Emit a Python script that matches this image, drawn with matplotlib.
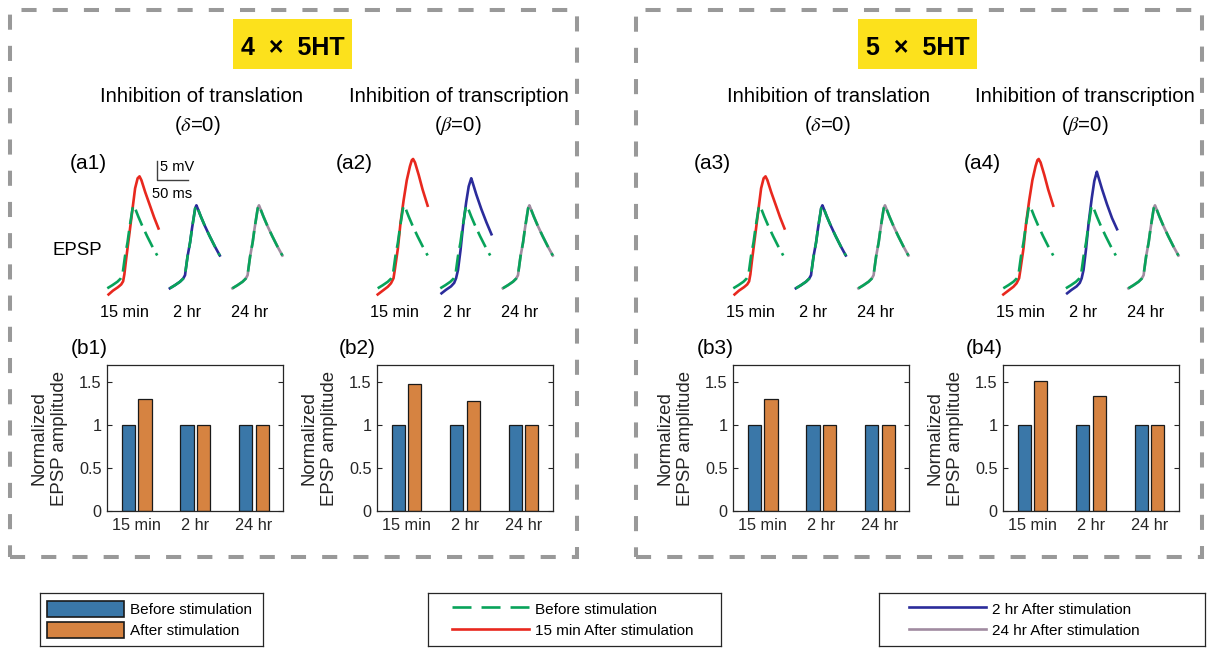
import matplotlib
matplotlib.use('Agg')
import matplotlib.pyplot as plt
import numpy as np
from matplotlib.patches import Rectangle, Patch
from matplotlib.lines import Line2D

plt.rcParams['font.family'] = ['Liberation Sans', 'DejaVu Sans']
plt.rcParams['mathtext.fontset'] = 'stix'

# ---- data ----
time_labels = ['15 min', '2 hr', '24 hr']
before_bars = [1, 1, 1]
after_b1 = [1.3, 1.0, 1.0]
after_b2 = [1.48, 1.28, 1.0]
after_b3 = [1.3, 1.0, 1.0]
after_b4 = [1.51, 1.34, 1.0]

# EPSP traces (ms, mV)
before_t = [0, 8, 16, 21, 24, 25, 28, 32, 35, 38, 40, 42, 44, 49, 55, 63, 71, 79]
before_v = [0, 0.8, 1.7, 2.5, 3.4, 4.7, 8.3, 11.9, 15.5, 18.6, 20.7, 21.5, 20.7, 18.6, 16.3, 13.5, 10.9, 8.5]

red_a1_t = [2, 9, 17, 22, 25, 27, 30, 35, 40, 44, 48, 51, 54, 60, 68, 74, 81]
red_a1_v = [-1.6, -0.6, 0.3, 1.0, 1.8, 3.6, 7.8, 14.2, 20.7, 25.9, 28.5, 29.0, 28.0, 24.9, 21.2, 18.4, 15.5]

red_a2_t = [0, 8, 16, 21, 25, 27, 32, 36, 41, 46, 51, 54, 56, 59, 65, 71, 79]
red_a2_v = [-1.6, -0.6, 0.4, 1.3, 2.6, 4.7, 10.4, 16.8, 22.8, 28.0, 31.6, 33.2, 33.5, 32.6, 29.3, 25.6, 21.4]

blue_a2_t = [2, 9, 17, 22, 25, 28, 32, 36, 41, 45, 49, 51, 57, 65, 73, 81]
blue_a2_v = [-1.3, -0.4, 0.5, 1.4, 2.6, 4.7, 9.8, 16.1, 22.3, 26.4, 28.5, 27.5, 24.3, 20.5, 17.1, 14.0]

# a3 / a4 15 min traces look the same as a1 / a2
red_a3_t, red_a3_v = red_a1_t, red_a1_v
red_a4_t, red_a4_v = red_a2_t, red_a2_v

blue_a4_t = [2, 9, 17, 22, 25, 28, 32, 36, 41, 45, 49, 51, 57, 65, 73, 81]
blue_a4_v = [-1.3, -0.4, 0.5, 1.4, 2.6, 4.8, 10.3, 16.9, 23.4, 27.8, 30.2, 29.1, 25.8, 21.8, 18.2, 15.3]

# colours
green = '#08A35A'
red = '#E8281E'
blue = '#2B2C9B'
grey = '#A08BA0'
bar_blue = '#3A77A8'
bar_orange = '#D68341'
dark = '#262626'

W, H = 1207, 648
fig = plt.figure(figsize=(W / 100, H / 100), dpi=100)


def box(x0, y0, x1, y1):
    return [x0 / W, 1 - y1 / H, (x1 - x0) / W, (y1 - y0) / H]


def fp(x, y):
    return x / W, 1 - y / H


# dashed frames
for x0, x1 in [(9.5, 577), (636, 1201.5)]:
    fig.patches.append(Rectangle(fp(x0, 557), (x1 - x0) / W, (557 - 10) / H,
                                 transform=fig.transFigure, fill=False, ec='#999999',
                                 lw=2.9, ls=(0, (3.75, 4.0))))

# yellow titles
for xc, txt in [(292.5, '4  \u00d7  5HT'), (917.5, '5  \u00d7  5HT')]:
    fig.patches.append(Rectangle(fp(xc - 59.5, 69), 119 / W, 50 / H,
                                 transform=fig.transFigure, fc='#FCE11C', ec='none'))
    fig.text(*fp(xc, 55), txt, ha='center', va='baseline', fontsize=18, fontweight='bold')

# sub titles
subs = [(201.5, 197, 'Inhibition of translation', r'($\delta$=0)'),
        (458.5, 457.5, 'Inhibition of transcription', r'($\beta$=0)'),
        (828.5, 827.5, 'Inhibition of translation', r'($\delta$=0)'),
        (1085, 1085, 'Inhibition of transcription', r'($\beta$=0)')]
for xc, xc2, l1, l2 in subs:
    fig.text(*fp(xc, 101.7), l1, ha='center', va='baseline', fontsize=14.6)
    fig.text(*fp(xc2, 131), l2, ha='center', va='baseline', fontsize=14.6)

# ---- EPSP traces ----
ms_px = 50 / 31.6
mv_px = 5 / 19.3
offsets = [0, 99, 198]
panels = [
    (107.3, 88, '(a1)', (red_a1_t, red_a1_v), (before_t, before_v)),
    (377.7, 354, '(a2)', (red_a2_t, red_a2_v), (blue_a2_t, blue_a2_v)),
    (733.3, 712, '(a3)', (red_a3_t, red_a3_v), (before_t, before_v)),
    (1003.3, 982, '(a4)', (red_a4_t, red_a4_v), (blue_a4_t, blue_a4_v)),
]
dash = (0, (6.5, 2.6))
for i, (ox, lx, lab, red_tr, blue_tr) in enumerate(panels):
    ax = fig.add_axes(box(ox - 15, 140, ox + 190, 300))
    ax.set_xlim(-15 * ms_px, 190 * ms_px)
    ax.set_ylim((288.3 - 300) * mv_px, (288.3 - 140) * mv_px)
    ax.axis('off')
    after = [red_tr, blue_tr, (before_t, before_v)]
    cols = [red, blue, grey]
    for off, (t, v), c in zip(offsets, after, cols):
        ax.plot(np.array(t) + off, v, color=c, lw=1.9, zorder=2)
        ax.plot(np.array(before_t) + off, before_v, color=green, lw=1.9, ls=dash, zorder=3)
    for off, tl in zip(offsets, time_labels):
        ax.text(off + 27, (288.3 - 316.5) * mv_px, tl, ha='center', va='baseline',
                fontsize=11.7, clip_on=False)
    fig.text(*fp(lx, 169), lab, ha='center', va='baseline', fontsize=15)
    if i == 0:
        ax.plot([78, 78, 128], [33.05, 28.05, 28.05], color='#404040', lw=1.0)
        ax.text(83.4, 30.5, '5 mV', ha='left', va='baseline', fontsize=10.5)
        ax.text(101.9, 23.3, '50 ms', ha='center', va='baseline', fontsize=10.5)

fig.text(*fp(101.7, 255), 'EPSP', ha='right', va='baseline', fontsize=13.4)

# ---- bar charts ----
bar_axes = [(107.3, 283.3, after_b1, '(b1)', 89),
            (377.3, 552.7, after_b2, '(b2)', 357),
            (733.3, 909.3, after_b3, '(b3)', 715),
            (1003.3, 1178.7, after_b4, '(b4)', 984)]
x = np.arange(3)
for x0, x1, after, lab, lx in bar_axes:
    ax = fig.add_axes(box(x0, 365, x1, 511))
    ax.bar(x - 0.141, before_bars, 0.227, color=bar_blue, ec='#1a1a1a', lw=0.9)
    ax.bar(x + 0.141, after, 0.227, color=bar_orange, ec='#1a1a1a', lw=0.9)
    ax.set_xlim(-0.5, 2.5)
    ax.set_ylim(0, 1.7)
    ax.set_yticks([0, 0.5, 1, 1.5])
    ax.set_yticklabels(['0', '0.5', '1', '1.5'])
    ax.set_xticks(x)
    ax.set_xticklabels(time_labels)
    ax.tick_params(direction='in', right=True, length=3.5, width=0.8,
                   labelsize=11.7, colors=dark, pad=4)
    ax.tick_params(axis='x', length=0, pad=5)
    for s in ax.spines.values():
        s.set_color(dark)
        s.set_linewidth(0.9)
    fig.text(*fp(x0 - 58, 438), 'Normalized\nEPSP amplitude', rotation=90,
             ha='center', va='center', fontsize=13.4, linespacing=1.32, color=dark)
    fig.text(*fp(lx, 354), lab, ha='center', va='baseline', fontsize=15)

# ---- legends ----
leg_specs = [
    ((40, 593, 263, 646), 0.033,
     [Patch(fc=bar_blue, ec='#1a1a1a', lw=1.2), Patch(fc=bar_orange, ec='#1a1a1a', lw=1.2)],
     ['Before stimulation', 'After stimulation']),
    ((428, 593, 721, 646), 0.083,
     [Line2D([], [], color=green, lw=1.9, ls=(0, (7.2, 3.8))), Line2D([], [], color=red, lw=1.9)],
     ['Before stimulation', '15 min After stimulation']),
    ((879, 593, 1205, 646), 0.093,
     [Line2D([], [], color=blue, lw=1.9), Line2D([], [], color=grey, lw=1.9)],
     ['2 hr After stimulation', '24 hr After stimulation']),
]
for rect, anch, handles, labels in leg_specs:
    lax = fig.add_axes(box(*rect))
    lax.set_xticks([])
    lax.set_yticks([])
    for s in lax.spines.values():
        s.set_color(dark)
        s.set_linewidth(0.9)
    lax.legend(handles, labels, loc='center left', bbox_to_anchor=(anch, 0.5),
               frameon=False, fontsize=11, handlelength=5.0, handleheight=1.25,
               handletextpad=0.4, labelspacing=0.35, borderpad=0, borderaxespad=0)

fig.savefig('out.png', dpi=100)
